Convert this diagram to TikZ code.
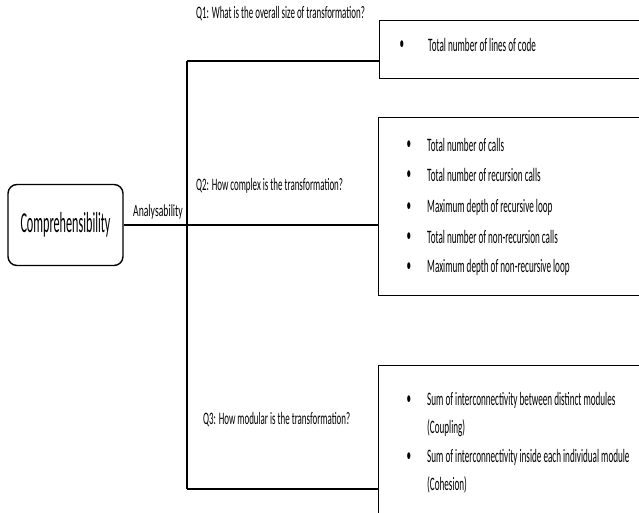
\documentclass[tikz,border=0pt]{standalone}
\usepackage{fontspec}
\setmainfont{Carlito}
\newfontfamily\titlefont{Carlito}[FakeStretch=0.42]
\newfontfamily\questfont{Carlito}[FakeStretch=0.51]
\newfontfamily\itemfont{Carlito}[FakeStretch=0.48]
\newfontfamily\edgefont{Carlito}[FakeStretch=0.57]
\begin{document}
\begin{tikzpicture}[x=1pt,y=-1pt,
  link/.style={line width=1.6pt,black},
  frame/.style={draw=black,line width=1.4pt,rectangle,anchor=north west,inner sep=0pt},
  qtext/.style={anchor=west,inner sep=0pt,font=\questfont\fontsize{17.5}{20}\selectfont},
  item/.style={anchor=west,inner sep=0pt,font=\itemfont\fontsize{19}{22}\selectfont},
  dot/.style={anchor=center,inner sep=0pt,font=\itemfont\fontsize{19}{22}\selectfont}]
\useasboundingbox (0,0) rectangle (639,512);
\clip (0,0) rectangle (639,512);

% root box
\node[draw=black,line width=1.4pt,rounded corners=9pt,minimum width=115pt,minimum height=81pt,
      inner sep=0pt,font=\titlefont\fontsize{29}{32}\selectfont] (comp) at (65.5,225) {Comprehensibility};

% answer frames (running past the page edge)
\node[frame,minimum width=300pt,minimum height=58pt] (b1) at (379,20) {};
\node[frame,minimum width=300pt,minimum height=178pt] (b2) at (378,117) {};
\node[frame,minimum width=300pt,minimum height=200pt] (b3) at (378,365) {};

% spine
\coordinate (s1) at (187,61);
\coordinate (s3) at (187,489);
\draw[link] (s1) -- (s3);
\draw[link] (s1) -- (s1 -| b1.west);
\draw[link] (s3) -- (s3 -| b3.west);
\draw[link] (comp.east) -- (comp.east -| b2.west);

% labels
\node[anchor=center,inner sep=0pt,font=\edgefont\fontsize{17}{20}\selectfont] (ana) at (158,212) {Analysability};
\node[qtext] (q1) at (196,14) {Q1: What is the overall size of transformation?};
\node[qtext] (q2) at (196,186) {Q2: How complex is the transformation?};
\node[qtext] (q3) at (203,420) {Q3: How modular is the transformation?};

% Q1 items
\node[dot] (d11) at (402,45) {•};
\node[item] (t11) at (428,45) {Total number of lines of code};

% Q2 items
\node[dot] (d21) at (409,145) {•};
\node[item] (t21) at (427,145) {Total number of calls};
\node[dot] (d22) at (409,175) {•};
\node[item] (t22) at (427,175) {Total number of recursion calls};
\node[dot] (d23) at (409,207) {•};
\node[item] (t23) at (427,207) {Maximum depth of recursive loop};
\node[dot] (d24) at (409,237) {•};
\node[item] (t24) at (427,237) {Total number of non-recursion calls};
\node[dot] (d25) at (409,267) {•};
\node[item] (t25) at (427,267) {Maximum depth of non-recursive loop};

% Q3 items
\node[dot] (d31) at (409,400) {•};
\node[item] (t31) at (427,400) {Sum of interconnectivity between distinct modules};
\node[item] (t32) at (427,428) {(Coupling)};
\node[dot] (d33) at (409,457) {•};
\node[item] (t33) at (427,457) {Sum of interconnectivity inside each individual module};
\node[item] (t34) at (427,485) {(Cohesion)};
\end{tikzpicture}
\end{document}
